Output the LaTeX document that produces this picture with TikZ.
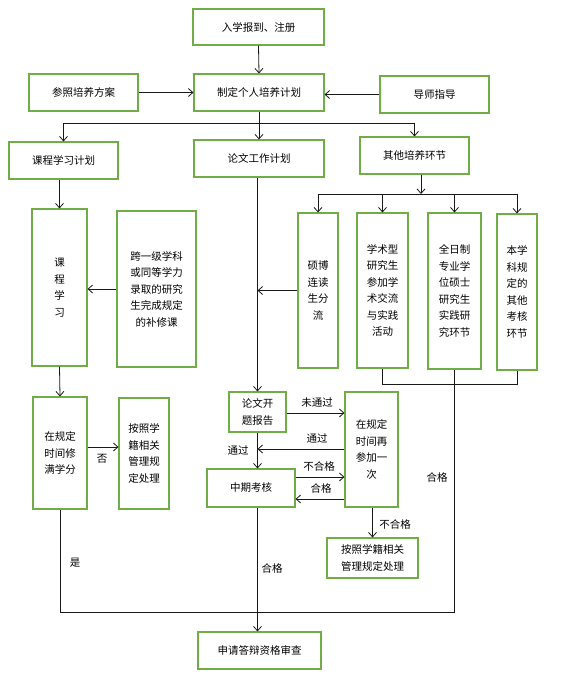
\documentclass[tikz,border=0pt]{standalone}
\usepackage{fontspec}
\setmainfont{Noto Sans CJK SC}
\usetikzlibrary{arrows.meta}
\definecolor{boxgreen}{HTML}{70AD47}
\begin{document}
\begin{tikzpicture}[x=1pt,y=-1pt,
  box/.style={draw=boxgreen, line width=1.1pt, inner sep=0pt, align=center,
    font=\fontsize{10.5}{16.5}\selectfont},
  conn/.style={draw=black!90, line width=0.8pt},
  arr/.style={conn, -{Straight Barb[length=4.5pt,width=8pt]}},
  lbl/.style={font=\fontsize{10.5}{12}\selectfont, inner sep=1pt}]
\useasboundingbox (0,0) rectangle (563,699);

% top row
\node[box, minimum width=131pt, minimum height=36pt] (reg) at (258.5,27) {入学报到、注册};
\node[box, minimum width=130pt, minimum height=37pt] (plan) at (259,92.5) {制定个人培养计划};
\node[box, minimum width=109pt, minimum height=37pt] (ref) at (83.5,92.5) {参照培养方案};
\node[box, minimum width=109pt, minimum height=37pt] (tutor) at (434.5,94.5) {导师指导};

% second row
\node[box, minimum width=109pt, minimum height=37pt] (course) at (63.5,160.5) {课程学习计划};
\node[box, minimum width=130pt, minimum height=37pt] (thesis) at (259,158.5) {论文工作计划};
\node[box, minimum width=109pt, minimum height=37pt] (other) at (414.5,155.5) {其他培养环节};

% tall boxes
\node[box, minimum width=55pt, minimum height=157pt] (study) at (59.5,287.5) {课\\程\\学\\习};
\node[box, minimum width=79pt, minimum height=156pt] (extra) at (156.5,289) {跨一级学科\\或同等学力\\录取的研究\\生完成规定\\的补修课};
\node[box, minimum width=40pt, minimum height=155pt] (sb) at (318,290.5) {硕博\\连读\\生分\\流};
\node[box, minimum width=51pt, minimum height=155pt] (acad) at (382.5,290.5) {学术型\\研究生\\参加学\\术交流\\与实践\\活动};
\node[box, minimum width=53pt, minimum height=156pt] (prof) at (454.5,291) {全日制\\专业学\\位硕士\\研究生\\实践研\\究环节};
\node[box, minimum width=40pt, minimum height=156pt] (misc) at (517,292) {本学\\科规\\定的\\其他\\考核\\环节};

% lower boxes
\node[box, minimum width=54pt, minimum height=112pt] (credit) at (60,453) {在规定\\时间修\\满学分};
\node[box, minimum width=50pt, minimum height=111pt] (dealL) at (144,453.5) {按照学\\籍相关\\管理规\\定处理};
\node[box, minimum width=57pt, minimum height=40pt] (open) at (257.5,412) {论文开\\题报告};
\node[box, minimum width=88pt, minimum height=38pt] (mid) at (251,488) {中期考核};
\node[box, minimum width=53pt, minimum height=115pt] (retry) at (371.5,449.5) {在规定\\时间再\\参加一\\次};
\node[box, minimum width=91pt, minimum height=40pt] (dealR) at (372.5,558) {按照学籍相关\\管理规定处理};
\node[box, minimum width=123pt, minimum height=37pt] (apply) at (259.5,650.5) {申请答辩资格审查};

% connectors top
\draw[arr] (reg.south) -- (plan.north);
\draw[arr] (ref.east) -- (plan.west);
\draw[arr] (tutor.west) -- (tutor.west -| plan.east);
\coordinate (j1) at (259,123);
\draw[conn] (plan.south) -- (j1);
\draw[arr] (j1) -| (course.north);
\draw[arr] (j1) -- (thesis.north);
\draw[arr] (j1) -| (other.north);

% other -> four boxes
\coordinate (j2) at (421,194);
\draw[arr] (other.south -| j2) -- (j2);
\draw[conn] (sb.north |- j2) -- (misc.north |- j2);
\draw[arr] (sb.north |- j2) -- (sb.north);
\draw[arr] (acad.north |- j2) -- (acad.north);
\draw[arr] (prof.north |- j2) -- (prof.north);
\draw[arr] (misc.north |- j2) -- (misc.north);

% course branch
\draw[arr] (course.south -| study.north) -- (study.north);
\draw[arr] (extra.west) -- (extra.west -| study.east);
\draw[arr] (study.south) -- (credit.north);
\draw[arr] (credit.east |- 0,447) -- (dealL.west |- 0,447);
\node[lbl] (no) at (102,459) {否};

% thesis branch
\draw[arr] (thesis.south -| open.north) -- (open.north);
\draw[arr] (sb.west) -- (sb.west -| open.north);
\draw[arr] (open.south) -- (open.south |- mid.north);
\draw[arr] (open.east |- 0,413) -- (retry.west |- 0,413);
\node[lbl] (l1) at (317,403) {未通过};
\draw[arr] (retry.west |- 0,449) -- (open.south |- 0,449);
\node[lbl] (l2) at (317,438) {通过};
\node[lbl] (l3) at (238,450) {通过};
\draw[arr] (mid.east |- 0,477) -- (retry.west |- 0,477);
\node[lbl] (l4) at (319,466) {不合格};
\draw[arr] (retry.west |- 0,499) -- (mid.east |- 0,499);
\node[lbl] (l5) at (321,488) {合格};
\draw[arr] (retry.south -| dealR.north) -- (dealR.north);
\node[lbl] (l6) at (395,524) {不合格};

% bottom
\coordinate (b1) at (454.5,612);
\draw[conn] (credit.south) |- (b1) -- (prof.south);
\draw[conn] (acad.south) |- (misc.south |- 0,384) -- (misc.south);
\draw[arr] (mid.south -| open.south) -- (apply.north -| open.south);
\node[lbl] (l7) at (75,563) {是};
\node[lbl] (l8) at (272,568) {合格};
\node[lbl] (l9) at (437,477) {合格};
\end{tikzpicture}
\end{document}
